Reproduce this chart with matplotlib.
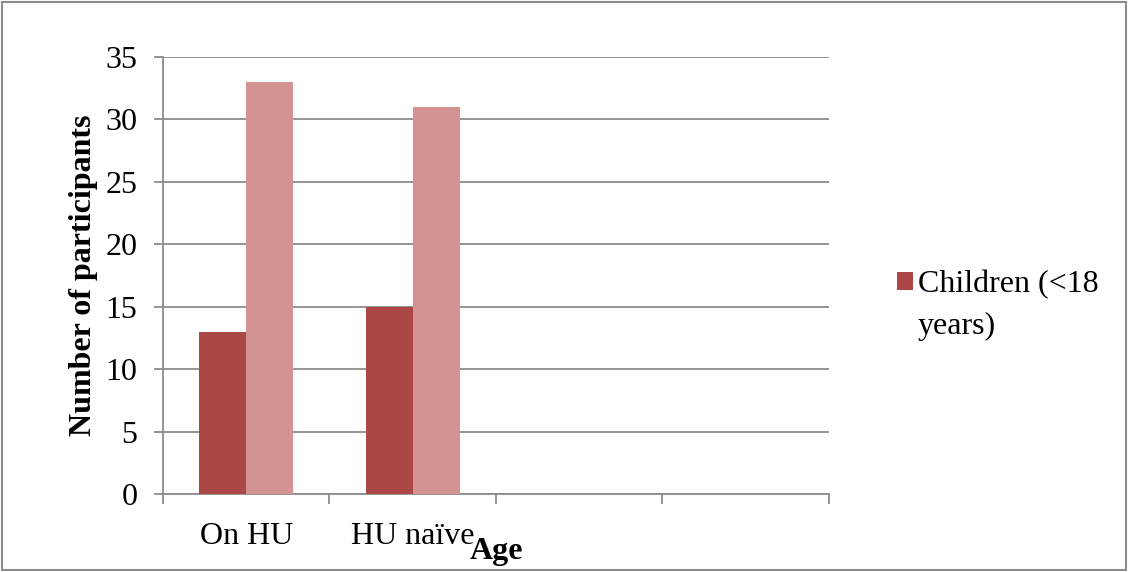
import numpy as np
import matplotlib
matplotlib.use('Agg')
from matplotlib import pyplot as plt
from matplotlib.patches import Rectangle

plt.rcParams['font.family'] = ['Liberation Serif', 'DejaVu Serif']

# data
categories = ['On HU', 'HU naïve', '', '']
children = [13, 15, 0, 0]
adults = [33, 31, 0, 0]
legend_lines = ['Children (<18', 'years)']

dark = '#ab4745'
light = '#d49393'
grey = '#8c8c8c'
fs = 23

fig = plt.figure(figsize=(11.28, 5.72), dpi=100)
ax = fig.add_axes([0.1445, 0.1364, 0.5904, 0.7639])

x = np.arange(len(categories))
w = 0.282
ax.bar(x - w / 2, children, w, color=dark, label=legend_lines[0], zorder=3)
ax.bar(x + w / 2, adults, w, color=light, zorder=3)

ax.set_xlim(-0.5, len(categories) - 0.5)
ax.set_ylim(0, 35)
ax.set_yticks(range(0, 36, 5))
ax.yaxis.grid(True, color=grey, linewidth=1.3, zorder=0)

# boundary ticks between categories, labels centred on the groups
ax.set_xticks(np.arange(-0.5, len(categories), 1.0))
ax.set_xticklabels([])
ax.set_xticks(x, minor=True)
ax.set_xticklabels(categories, minor=True)
ax.tick_params(axis='x', which='major', length=7, color=grey, width=1.3)
ax.tick_params(axis='x', which='minor', length=0, pad=20, labelsize=fs)
ax.tick_params(axis='y', length=6.5, color=grey, width=1.3, labelsize=fs, pad=12)

for s in ['top', 'right']:
    ax.spines[s].set_visible(False)
for s in ['left', 'bottom']:
    ax.spines[s].set_color(grey)
    ax.spines[s].set_linewidth(1.3)

ax.set_ylabel('Number of participants', fontsize=fs, fontweight='bold', labelpad=5)
fig.text(0.4406, 0.0367, 'Age', fontsize=fs, fontweight='bold', ha='center', va='center')

h, l = ax.get_legend_handles_labels()
fig.legend(h, l, loc='center left', bbox_to_anchor=(897 / 1128, 1 - 285 / 572),
           frameon=False, fontsize=fs, handlelength=0.5, handleheight=0.5,
           handletextpad=0.16, borderaxespad=0, borderpad=0)
fig.text(918 / 1128, 1 - 334 / 572, legend_lines[1], fontsize=fs, va='baseline', ha='left')

# outer frame
fig.patches.append(Rectangle((0.002, 0.003), 0.996, 0.994, transform=fig.transFigure,
                             fill=False, edgecolor=grey, linewidth=1.5))

plt.savefig('out.png', dpi=100)
